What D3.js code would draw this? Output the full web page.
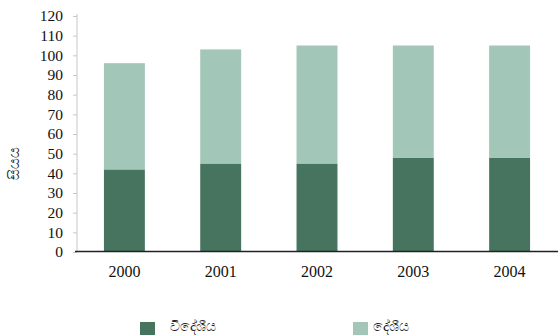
<!DOCTYPE html>
<html><head><meta charset="utf-8">
<script src="https://cdn.jsdelivr.net/npm/d3@7"></script>
<style>body{margin:0;background:#fff}svg{display:block}</style>
</head><body>
<script>
const years = ["2000","2001","2002","2003","2004"];
const foreign = [42, 45, 45, 48, 48];
const local = [54, 58, 60, 57, 57];
const yTicks = [0,10,20,30,40,50,60,70,80,90,100,110,120];
const seriesNames = ["විදේශීය","දේශීය"];
const colors = ["#47745f","#a2c6b8"];
const yLabel = "සියය";

const W = 558, H = 335;
const svg = d3.select("body").append("svg").attr("width", W).attr("height", H);
const x = d3.scaleBand().domain(years).range([76, 558]).paddingInner(0.575).paddingOuter(0.29);
const y = d3.scaleLinear().domain([0, 120]).range([252, 16]);

const rows = years.map((yr, i) => ({year: yr, f: foreign[i], l: local[i]}));
const stack = d3.stack().keys(["f","l"])(rows);

// y axis
const ya = svg.append("g").attr("transform","translate(77,0)")
  .call(d3.axisLeft(y).tickValues(yTicks).tickSize(4).tickPadding(10));
ya.select(".domain").attr("stroke","#c8c8c8").attr("d","M0,14V252");
ya.selectAll(".tick line").attr("stroke","#c8c8c8");
ya.selectAll(".tick text").attr("font-family","Liberation Serif").attr("font-size",15.5).attr("fill","#111");

svg.append("g").selectAll("g").data(stack).join("g").attr("fill",(d,i)=>colors[i])
  .selectAll("rect").data(d=>d).join("rect")
  .attr("x", d=>x(d.data.year)).attr("width", x.bandwidth())
  .attr("y", d=>y(d[1])).attr("height", d=>y(d[0])-y(d[1]));

// x axis
const xa = svg.append("g").attr("transform","translate(0,251.5)")
  .call(d3.axisBottom(x).tickSize(0).tickPadding(14));
xa.select(".domain").attr("stroke","#222").attr("stroke-width",1.6).attr("d","M75,0H558");
xa.selectAll(".tick text").attr("font-family","Liberation Serif").attr("font-size",16).attr("fill","#111");

svg.append("text").attr("transform","translate(19,163) rotate(-90)")
  .attr("text-anchor","middle").attr("font-size",15).attr("fill","#222")
  .attr("font-family","Noto Sans, sans-serif").text(yLabel);

// legend
const lx = [140, 353];
const lg = svg.append("g").selectAll("g").data(seriesNames).join("g")
  .attr("transform",(d,i)=>`translate(${lx[i]},322)`);
lg.append("rect").attr("width",15).attr("height",13).attr("fill",(d,i)=>colors[i]);
lg.append("text").attr("x",(d,i)=>i===0?30:20).attr("y",9).attr("font-size",14).attr("fill","#222")
  .attr("font-family","Noto Sans, sans-serif").text(d=>d);
</script>
</body></html>
